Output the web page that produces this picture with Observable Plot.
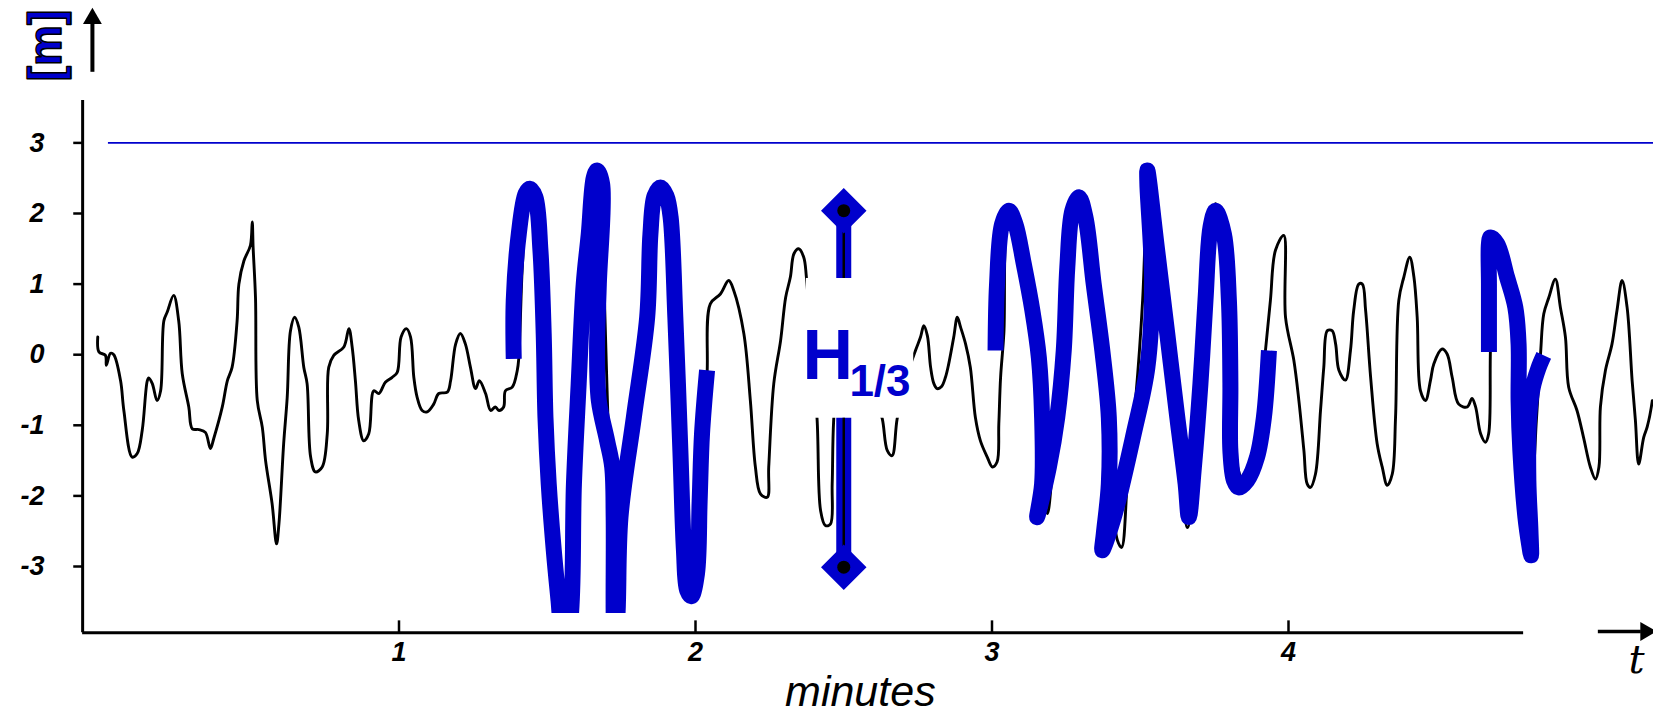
<!DOCTYPE html>
<html><head><meta charset="utf-8">
<script src="https://cdn.jsdelivr.net/npm/d3@7"></script>
<script src="https://cdn.jsdelivr.net/npm/@observablehq/plot@0.6"></script>
<style>html,body{margin:0;padding:0;background:#fff;overflow:hidden}</style>
</head><body><div id="chart"></div>
<script>
const BLUE = "#0000cc";
const yTicks = [-3,-2,-1,0,1,2,3];
const yTickLabels = ["-3","-2","-1","0","1","2","3"];
const xTicks = [1,2,3,4];
const xTickLabels = ["1","2","3","4"];
const referenceLevel = 3;
const h13Time = 2.5, h13Top = 2.04, h13Bottom = -3.01;

// surface elevation record [minutes, metres]
const blackWave = [
[-0.016,0.25],[-0.012,0.04],[0.010,-0.01],[0.013,-0.15],[0.027,0.02],[0.038,0],[0.061,-0.37],[0.072,-0.79],[0.100,-1.45],[0.117,-1.40],[0.134,-1.07],[0.151,-0.37],[0.156,-0.33],[0.168,-0.41],[0.184,-0.65],[0.196,-0.51],[0.207,0.48],[0.218,0.60],[0.240,0.84],[0.257,0.48],[0.269,-0.27],[0.291,-0.74],[0.303,-1.05],[0.325,-1.06],[0.347,-1.10],[0.364,-1.33],[0.375,-1.19],[0.404,-0.74],[0.421,-0.37],[0.437,-0.18],[0.454,0.48],[0.460,1.00],[0.477,1.33],[0.499,1.55],[0.505,1.88],[0.508,1.52],[0.516,0.81],[0.522,-0.65],[0.539,-1.03],[0.550,-1.50],[0.572,-2.11],[0.587,-2.68],[0.595,-2.40],[0.611,-1.26],[0.623,-0.60],[0.634,0.34],[0.648,0.53],[0.662,0.39],[0.679,-0.18],[0.690,-0.41],[0.702,-1.45],[0.718,-1.66],[0.741,-1.59],[0.758,-1.12],[0.763,-0.18],[0.780,-0.01],[0.814,0.11],[0.831,0.37],[0.842,0.11],[0.853,-0.37],[0.864,-0.93],[0.881,-1.22],[0.898,-1.12],[0.915,-0.51],[0.932,-0.55],[0.954,-0.39],[0.977,-0.32],[0.994,-0.25],[1.007,0.25],[1.025,0.37],[1.039,0.25],[1.050,-0.32],[1.061,-0.60],[1.078,-0.79],[1.095,-0.81],[1.117,-0.70],[1.134,-0.55],[1.163,-0.53],[1.174,-0.37],[1.191,0.15],[1.207,0.30],[1.224,0.15],[1.241,-0.18],[1.258,-0.48],[1.271,-0.37],[1.292,-0.55],[1.309,-0.79],[1.325,-0.74],[1.337,-0.79],
[1.353,-0.74],[1.359,-0.51],[1.382,-0.46],[1.399,-0.22],[1.404,-0.05],[1.417,1.33],[1.437,2.30],[1.460,2.19],[1.480,0.77],[1.497,-1.36],[1.514,-2.91],[1.531,-3.34],[1.555,-3.55],[1.578,-3.34],[1.599,-0.93],[1.625,1.19],[1.652,2.47],[1.669,2.58],[1.683,2.33],[1.693,0.77],[1.707,-1.22],[1.720,-2.91],[1.730,-3.55],[1.744,-2.91],[1.774,-1.36],[1.814,0.06],[1.848,1.48],[1.872,2.25],[1.885,2.35],[1.906,2.11],[1.926,0.77],[1.943,-1.07],[1.960,-2.63],[1.976,-3.27],[2.000,-3.06],[2.017,-2.06],[2.027,-0.93],[2.039,-0.27],[2.050,0.72],[2.084,0.86],[2.112,1.05],[2.129,0.91],[2.163,0.30],[2.185,-0.65],[2.202,-1.59],[2.219,-1.97],[2.242,-2.02],[2.247,-1.59],[2.264,-0.41],[2.287,0.20],[2.304,0.81],[2.320,1.10],[2.332,1.43],[2.348,1.50],[2.365,1.38],[2.374,1.10],[2.391,0.06],[2.410,-0.91],[2.422,-2.21],[2.438,-2.42],[2.455,-2.40],[2.461,-1.83],[2.466,-0.93],[2.489,0.20],[2.523,0.77],[2.556,0.49],[2.590,-0.08],[2.610,-0.65],[2.630,-0.91],[2.647,-1.36],[2.663,-1.43],[2.680,-0.91],[2.708,-0.37],[2.742,0.06],[2.759,0.25],[2.770,0.41],[2.782,0.27],[2.793,-0.18],[2.804,-0.41],[2.815,-0.48],[2.830,-0.45],[2.843,-0.32],[2.854,-0.13],[2.871,0.25],[2.883,0.53],[2.894,0.39],[2.911,0.15],[2.927,-0.18],[2.944,-0.89],[2.961,-1.22],[2.984,-1.45],[3.001,-1.59],[3.017,-1.52],[3.023,-0.98],[3.029,-0.32],[3.040,0.30],[3.056,1.97],[3.072,2.01],[3.096,1.48],[3.130,0.34],[3.157,-0.93],[3.177,-2.06],[3.187,-2.25],[3.204,-1.64],[3.231,-0.37],[3.251,1.19],[3.272,2.04],[3.292,2.18],[3.316,1.90],[3.349,0.77],[3.376,-0.65],[3.400,-1.78],[3.423,-2.63],[3.437,-2.73],[3.457,-1.78],[3.484,-0.65],[3.508,0.77],[3.521,2.18],[3.528,2.54],[3.545,2.04],[3.575,0.49],[3.609,-0.93],[3.636,-1.78],[3.659,-2.45],[3.676,-2.06],[3.696,-0.65],[3.717,0.77],[3.737,1.83],[3.754,2.14],[3.774,1.83],[3.798,0.77],[3.814,-0.65],[3.831,-1.64],[3.848,-1.78],[3.872,-1.50],[3.899,-0.93],[3.919,-0.08],[3.939,0.77],[3.956,1.48],[3.984,1.69],[3.990,0.53],
[4.018,-0.08],[4.035,-0.65],[4.052,-1.36],[4.063,-1.83],[4.074,-1.88],[4.091,-1.69],[4.108,-0.79],[4.119,-0.18],[4.131,0.34],[4.147,0.34],[4.159,0.15],[4.170,-0.22],[4.192,-0.36],[4.209,0.06],[4.220,0.63],[4.237,1.00],[4.249,1.00],[4.260,0.63],[4.277,-0.32],[4.299,-1.26],[4.316,-1.59],[4.333,-1.85],[4.350,-1.69],[4.361,-0.89],[4.372,0.77],[4.389,1.10],[4.409,1.38],[4.423,1.10],[4.434,0.53],[4.445,-0.51],[4.462,-0.65],[4.479,-0.36],[4.490,-0.13],[4.518,0.08],[4.535,0.01],[4.552,-0.32],[4.574,-0.70],[4.603,-0.74],[4.619,-0.62],[4.631,-0.74],[4.648,-1.12],[4.664,-1.24],[4.675,-1.12],[4.681,0.06],[4.692,1.48],[4.721,1.59],[4.737,1.38],[4.755,0.91],[4.782,-0.36],[4.806,-1.36],[4.823,-1.64],[4.836,-0.93],[4.850,0.01],[4.861,0.58],[4.878,0.81],[4.900,1.07],[4.917,0.67],[4.934,0.25],[4.945,-0.46],[4.973,-0.79],[4.995,-1.17],[5.018,-1.59],[5.035,-1.76],[5.047,-1.59],[5.052,-0.74],[5.069,-0.22],[5.091,0.15],[5.108,0.63],[5.125,1.05],[5.142,0.67],[5.159,-0.37],[5.170,-0.93],[5.181,-1.55],[5.198,-1.17],[5.210,-1.02],[5.227,-0.65]
];

// highlighted highest waves (thick blue tracings)
const crest1 = [
[1.387,-0.06],[1.387,0.77],[1.404,1.71],[1.427,2.28],[1.441,2.35],[1.460,2.23],[1.477,1.48],[1.488,0.30],[1.494,-0.89],[1.505,-1.83],[1.522,-2.77],[1.538,-3.48],[1.555,-4.19],[1.578,-3.76],[1.590,-1.83],[1.606,-0.41],[1.623,1.00],[1.640,1.71],[1.657,2.51],[1.668,2.61],[1.685,2.42],[1.674,1.00],[1.668,0.06],[1.674,-0.65],[1.702,-1.22],[1.719,-1.59],[1.724,-2.30],[1.724,-3.67],[1.727,-4.19],[1.737,-3.67],[1.747,-2.30],[1.792,-0.89],[1.837,0.53],[1.848,1.71],[1.862,2.25],[1.882,2.37],[1.902,2.25],[1.916,1.95],[1.932,0.53],[1.949,-1.36],[1.961,-2.77],[1.972,-3.34],[1.986,-3.42],[2.005,-3.10],[2.014,-2.07],[2.022,-1.12],[2.039,-0.22]
];
const crest2 = [
[3.012,0.06],[3.017,1.00],[3.034,1.85],[3.057,2.04],[3.079,1.85],[3.107,1.29],[3.136,0.63],[3.158,-0.04],[3.169,-0.89],[3.169,-1.83],[3.152,-2.30],[3.192,-1.59],[3.220,-0.89],[3.242,0.06],[3.254,1.24],[3.271,2.04],[3.293,2.23],[3.315,1.95],[3.343,1.00],[3.372,0.06],[3.394,-0.89],[3.394,-1.83],[3.377,-2.54],[3.372,-2.77],[3.411,-2.30],[3.478,-1.12],[3.524,-0.18],[3.540,1.00],[3.524,2.42],[3.524,2.61],[3.557,1.48],[3.591,0.30],[3.625,-0.89],[3.653,-1.83],[3.664,-2.30],[3.681,-1.59],[3.703,-0.41],[3.720,0.77],[3.737,1.81],[3.754,2.04],[3.782,1.71],[3.799,0.77],[3.804,-0.41],[3.804,-1.36],[3.816,-1.78],[3.832,-1.88],[3.861,-1.78],[3.894,-1.45],[3.917,-0.89],[3.934,0.06]
];
const crest3 = [
[4.676,0.04],[4.676,1.00],[4.676,1.57],[4.681,1.66],[4.704,1.57],[4.737,1.10],[4.765,0.67],[4.776,0.15],[4.776,-0.65],[4.782,-1.36],[4.799,-2.30],[4.812,-2.70],[4.818,-2.84],[4.816,-2.49],[4.809,-1.78],[4.811,-0.93],[4.823,-0.48],[4.843,-0.19],[4.861,-0.01]
];

const X = d => d[0], Y = d => d[1];
const blueLine = data => Plot.line(data, {x: X, y: Y, stroke: BLUE, strokeWidth: 16, strokeLinecap: "butt", strokeLinejoin: "round", curve: "catmull-rom", clip: true});
const tickFont = {fontSize: 27, fontWeight: "bold", fontStyle: "italic", fill: "#000"};

const chart = Plot.plot({
  width: 1653, height: 715,
  marginLeft: 82, marginRight: 0, marginTop: 20, marginBottom: 102,
  x: {domain: [0, 5], range: [102, 1584.5], label: null, axis: null},
  y: {domain: [-3, 3], range: [566, 142.4], label: null, axis: null},
  style: {fontFamily: "'Liberation Sans', Arial, sans-serif", background: "#fff"},
  marks: [
    Plot.ruleY([referenceLevel], {x1: 0.02, x2: 5.24, stroke: BLUE, strokeWidth: 1.6}),
    Plot.line(blackWave, {x: X, y: Y, stroke: "#000", strokeWidth: 2.9, curve: "catmull-rom"}),
    blueLine(crest1), blueLine(crest2), blueLine(crest3),
    // H1/3 annotation
    Plot.rect([0], {x1: 2.374, x2: 2.736, y1: -0.90, y2: 1.08, fill: "#fff"}),
    Plot.ruleX([h13Time], {y1: h13Top, y2: 1.08, stroke: BLUE, strokeWidth: 15, strokeLinecap: "butt"}),
    Plot.ruleX([h13Time], {y1: -0.90, y2: h13Bottom, stroke: BLUE, strokeWidth: 15, strokeLinecap: "butt"}),
    Plot.ruleX([h13Time], {y1: h13Top, y2: 1.08, stroke: "#000", strokeWidth: 2.5}),
    Plot.ruleX([h13Time], {y1: -0.90, y2: h13Bottom, stroke: "#000", strokeWidth: 2.5}),
    Plot.dot([h13Top, h13Bottom], {x: h13Time, y: d => d, symbol: "diamond2", r: 20.5, fill: BLUE, stroke: null}),
    Plot.dot([h13Top, h13Bottom], {x: h13Time, y: d => d, r: 6.5, fill: "#000", stroke: null}),
    Plot.text(["H"], {x: 2.361, y: -0.34, textAnchor: "start", lineAnchor: "bottom", fontSize: 70, fontWeight: "bold", fill: BLUE}),
    Plot.text(["1/3"], {x: 2.519, y: -0.58, textAnchor: "start", lineAnchor: "bottom", fontSize: 44, fontWeight: "bold", fill: BLUE}),
    // axes
    Plot.ruleX([-0.067], {y1: 3.6, y2: -3.94, stroke: "#000", strokeWidth: 3}),
    Plot.ruleY([-3.94], {x1: -0.067, x2: 4.793, stroke: "#000", strokeWidth: 3}),
    Plot.ruleY(yTicks, {x1: -0.097, x2: -0.067, stroke: "#000", strokeWidth: 2.5}),
    Plot.ruleX(xTicks, {y1: -3.94, y2: -3.77, stroke: "#000", strokeWidth: 2.5}),
    Plot.text(yTicks, {x: -0.067, y: d => d, dx: -38, text: d => yTickLabels[yTicks.indexOf(d)], textAnchor: "end", lineAnchor: "middle", ...tickFont}),
    Plot.text(xTicks, {x: d => d, y: -4.22, text: d => xTickLabels[xTicks.indexOf(d)], textAnchor: "middle", lineAnchor: "middle", ...tickFont}),
    // x arrow
    Plot.ruleY([-3.92], {x1: 5.045, x2: 5.19, stroke: "#000", strokeWidth: 3.5}),
    Plot.dot([0], {x: 5.205, y: -3.92, symbol: "triangle", rotate: 90, r: 7, fill: "#000", stroke: null}),
    Plot.text(["t"], {x: 5.174, y: -4.32, fontSize: 40, fontStyle: "italic", fontFamily: "'DejaVu Serif', serif", fill: "#000"}),
    Plot.text(["minutes"], {x: 2.556, y: -4.969, lineAnchor: "bottom", fontSize: 43, fontStyle: "italic", fill: "#000"}),
    // unit label and up arrow
    Plot.ruleX([-0.034], {y1: 4.00, y2: 4.68, stroke: "#000", strokeWidth: 4}),
    Plot.dot([0], {x: -0.034, y: 4.76, symbol: "triangle", r: 7, fill: "#000", stroke: null}),
    Plot.text(["[m]"], {x: -0.189, y: 4.38, rotate: -90, fontSize: 46, fontWeight: "bold", fill: BLUE, stroke: "#000", strokeWidth: 1.5, paintOrder: "normal"})
  ]
});
document.getElementById("chart").appendChild(chart);
</script>
</body></html>
